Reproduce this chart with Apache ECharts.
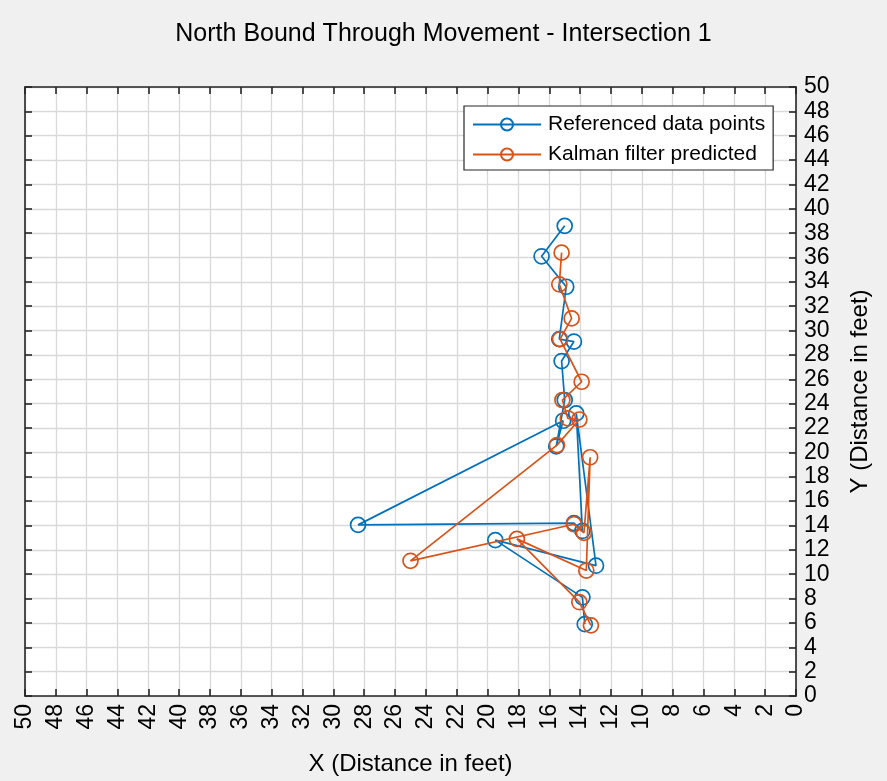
<!DOCTYPE html>
<html>
<head>
<meta charset="utf-8">
<script src="https://cdn.jsdelivr.net/npm/echarts@6/dist/echarts.min.js"></script>
<style>
html,body{margin:0;padding:0;background:#f0f0f0;}
#c{width:887px;height:781px;}
</style>
</head>
<body>
<div id="c"></div>
<script>
// Referenced data points (blue)
const refX = [15.0, 16.5, 14.9, 15.35, 14.4, 15.2, 15.0, 15.55, 15.1, 28.4, 14.4, 13.85, 14.25, 12.97, 19.5, 13.85, 13.7];
const refY = [38.6, 36.1, 33.6, 29.3, 29.1, 27.5, 24.3, 20.5, 22.6, 14.05, 14.2, 13.55, 23.2, 10.7, 12.8, 8.1, 5.9];
// Kalman filter predicted (orange)
const kalX = [15.2, 15.35, 14.55, 15.3, 13.9, 15.15, 14.8, 14.05, 15.5, 25.0, 14.4, 13.75, 13.35, 13.6, 18.1, 14.05, 13.3];
const kalY = [36.4, 33.8, 31.0, 29.3, 25.8, 24.3, 22.8, 22.7, 20.6, 11.1, 14.1, 13.4, 19.6, 10.3, 12.9, 7.7, 5.8];
const seriesNames = ['Referenced data points', 'Kalman filter predicted'];
const axisMin = 0, axisMax = 50, axisStep = 2;

const pairs = (xs, ys) => xs.map((x, i) => [x, ys[i]]);
const FONT = 'Liberation Sans, Arial, sans-serif';
const AX = '#262626';

const chart = echarts.init(document.getElementById('c'), null, {renderer: 'canvas'});
function axisBase() {
  return {
    min: axisMin, max: axisMax, interval: axisStep, type: 'value',
    axisLine: {show: true, onZero: false, lineStyle: {color: AX, width: 1.6}},
    axisTick: {show: true, inside: true, length: 7, lineStyle: {color: AX, width: 1.6}},
    splitLine: {show: false}
  };
}
const gridLine = {show: true, lineStyle: {color: '#d9d9d9', width: 1.3}};
chart.setOption({
  backgroundColor: '#f0f0f0',
  animation: false,
  title: {
    text: 'North Bound Through Movement - Intersection 1',
    left: 'center', top: 17,
    textStyle: {fontFamily: FONT, fontSize: 25, fontWeight: 'normal', color: '#000'}
  },
  grid: {left: 25, right: 91, top: 87, bottom: 82, show: true, backgroundColor: '#fff', borderWidth: 0},
  legend: {
    orient: 'vertical', left: 464, top: 106,
    backgroundColor: '#fff', borderColor: AX, borderWidth: 1.2,
    padding: [8, 8, 5, 8], itemGap: 9, itemWidth: 68, itemHeight: 15,
    textStyle: {fontFamily: FONT, fontSize: 21, color: '#000', padding: [0, 0, 0, 2]},
    data: seriesNames
  },
  xAxis: [
    Object.assign(axisBase(), {
      position: 'bottom', inverse: true,
      name: 'X (Distance in feet)', nameLocation: 'middle', nameGap: 56,
      nameTextStyle: {fontFamily: FONT, fontSize: 24, color: '#000'},
      axisLabel: {rotate: 90, margin: 8, fontFamily: FONT, fontSize: 23, color: '#000'},
      splitLine: gridLine
    }),
    Object.assign(axisBase(), {position: 'top', inverse: true, axisLabel: {show: false}})
  ],
  yAxis: [
    Object.assign(axisBase(), {
      position: 'right',
      name: 'Y (Distance in feet)', nameLocation: 'middle', nameGap: 52, nameRotate: 90,
      nameTextStyle: {fontFamily: FONT, fontSize: 24, color: '#000'},
      axisLabel: {margin: 8, padding: [6, 0, 0, 0], fontFamily: FONT, fontSize: 23, color: '#000'},
      splitLine: gridLine
    }),
    Object.assign(axisBase(), {position: 'left', axisLabel: {show: false}})
  ],
  series: [
    {
      name: seriesNames[0], type: 'line', data: pairs(refX, refY),
      color: '#0072BD', symbol: 'circle', symbolSize: 15,
      itemStyle: {color: 'rgba(0,0,0,0)', borderColor: '#0072BD', borderWidth: 1.7},
      lineStyle: {color: '#0072BD', width: 1.7}, z: 3
    },
    {
      name: seriesNames[1], type: 'line', data: pairs(kalX, kalY),
      color: '#D95319', symbol: 'circle', symbolSize: 15,
      itemStyle: {color: 'rgba(0,0,0,0)', borderColor: '#D95319', borderWidth: 1.7},
      lineStyle: {color: '#D95319', width: 1.7}, z: 4
    }
  ]
});
</script>
</body>
</html>
